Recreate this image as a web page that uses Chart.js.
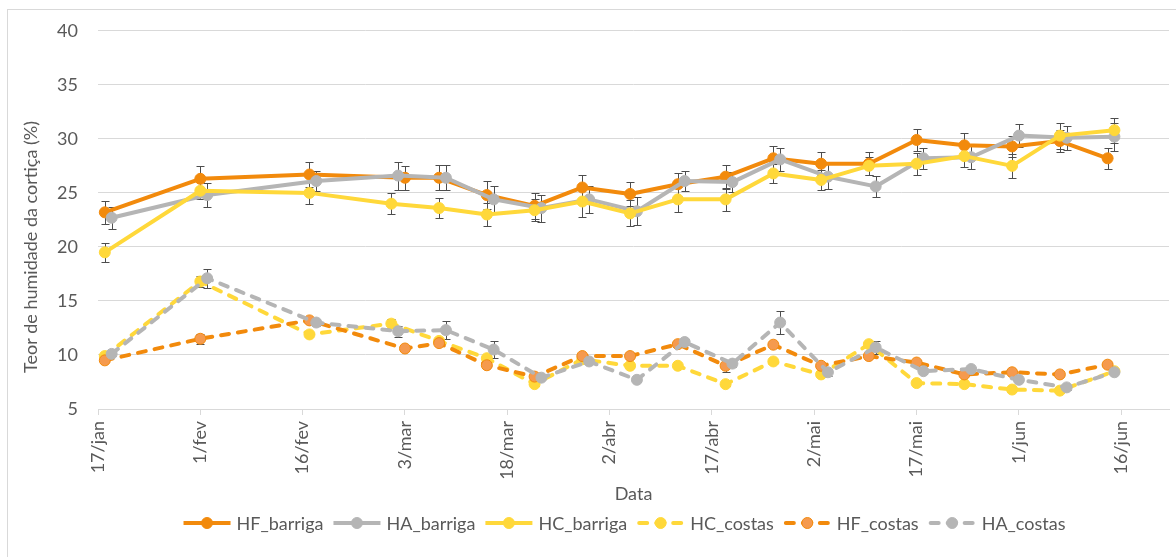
<!DOCTYPE html>
<html>
<head>
<meta charset="utf-8">
<script src="https://cdn.jsdelivr.net/npm/chart.js@4.4.1/dist/chart.umd.min.js"></script>
<style>
  html, body { margin: 0; padding: 0; background: #fff; }
  #wrap { position: relative; width: 1176px; height: 557px; overflow: hidden; }
  #frame { position: absolute; left: 7px; top: 9px; width: 1190px; height: 570px; border: 1px solid #D9D9D9; box-sizing: border-box; }
  canvas { position: absolute; left: 0; top: 0; }
</style>
</head>
<body>
<div id="wrap">
  <div id="frame"></div>
  <canvas id="c" width="1176" height="557"></canvas>
</div>
<script>
// Sampling dates (dd/mm, 2021) for each group of measurements
const datesHF = ['18/01','01/02','17/02','03/03','08/03','15/03','22/03','29/03','05/04','12/04','19/04','26/04','03/05','10/05','17/05','24/05','31/05','07/06','14/06'];
const datesHA = ['19/01','02/02','18/02','02/03','09/03','16/03','23/03','30/03','06/04','13/04','20/04','27/04','04/05','11/05','18/05','25/05','01/06','08/06','15/06'];
const datesHC = ['18/01','01/02','17/02','01/03','08/03','15/03','22/03','29/03','05/04','12/04','19/04','26/04','03/05','10/05','17/05','24/05','31/05','07/06','15/06'];

// Cork moisture content (%) — means
const hfBarriga = [23.2, 26.3, 26.7, 26.4, 26.4, 24.8, 23.8, 25.5, 24.9, 25.8, 26.5, 28.2, 27.7, 27.7, 29.9, 29.4, 29.3, 29.8, 28.2];
const haBarriga = [22.7, 24.8, 26.1, 26.6, 26.4, 24.4, 23.6, 24.4, 23.3, 26.1, 26.0, 28.1, 26.5, 25.6, 28.2, 28.3, 30.3, 30.1, 30.2];
const hcBarriga = [19.5, 25.2, 25.0, 24.0, 23.6, 23.0, 23.4, 24.2, 23.1, 24.4, 24.4, 26.8, 26.2, 27.5, 27.7, 28.4, 27.5, 30.3, 30.8];
const hcCostas  = [9.9, 16.8, 11.9, 12.9, 11.3, 9.7, 7.3, 9.6, 9.0, 9.0, 7.3, 9.4, 8.2, 11.0, 7.4, 7.3, 6.8, 6.7, 8.5];
const hfCostas  = [9.5, 11.5, 13.2, 10.6, 11.1, 9.05, 8.0, 9.9, 9.9, 11.0, 9.0, 10.95, 9.0, 9.9, 9.3, 8.2, 8.4, 8.2, 9.1];
const haCostas  = [10.1, 17.1, 13.0, 12.2, 12.3, 10.5, 7.9, 9.4, 7.7, 11.2, 9.2, 13.0, 8.4, 10.7, 8.5, 8.7, 7.7, 7.0, 8.4];

// Standard deviations (error bars)
const hfBarrigaSD = [1.05, 1.2, 1.15, 1.1, 1.15, 1.3, 1.2, 1.15, 1.15, 1.05, 1.1, 1.1, 1.05, 1.05, 1.05, 1.15, 1.0, 1.0, 0.95];
const haBarrigaSD = [1.0, 1.1, 0.95, 1.3, 1.15, 1.2, 1.25, 1.25, 1.3, 0.95, 0.95, 1.05, 1.15, 1.0, 0.95, 1.05, 1.05, 1.1, 1.3];
const hcBarrigaSD = [0.9, 0.8, 1.0, 0.95, 0.9, 1.05, 1.0, 1.45, 1.2, 1.15, 1.05, 0.9, 0.9, 0.85, 1.0, 1.0, 1.1, 1.2, 1.15];
const hcCostasSD  = [0.2, 0.5, 0.25, 0.45, 0.2, 0.2, 0.2, 0.2, 0.2, 0.2, 0.2, 0.2, 0.2, 0.2, 0.2, 0.2, 0.2, 0.2, 0.2];
const hfCostasSD  = [0.15, 0.45, 0.2, 0.2, 0.2, 0.2, 0.2, 0.2, 0.15, 0.2, 0.55, 0.2, 0.15, 0.2, 0.2, 0.15, 0.15, 0.15, 0.15];
const haCostasSD  = [0.2, 0.9, 0.3, 0.5, 0.85, 0.75, 0.2, 0.2, 0.2, 0.3, 0.35, 1.05, 0.3, 0.6, 0.3, 0.2, 0.2, 0.2, 0.2];

// Axis settings
const monthNames = ['jan','fev','mar','abr','mai','jun','jul','ago','set','out','nov','dez'];
const axisStart = Date.UTC(2021, 0, 17);
const DAY = 86400000;
const xMaxDays = 157;
const xStepDays = 15;
const yMin = 5, yMax = 40, yStep = 5;

const FONT = 'Lato, "Open Sans", sans-serif';
const FS = 18;
const TEXT = '#595959';
const GRID = '#D9D9D9';
const ORANGE = '#F28A0C';
const ORANGE_LIGHT = '#F59A4E';
const GRAY = '#B5B5B5';
const YELLOW = '#FFD83A';

function dayOf(s) {
  const [d, m] = s.split('/').map(Number);
  return Math.round((Date.UTC(2021, m - 1, d) - axisStart) / DAY);
}
function dayLabel(v) {
  const dt = new Date(axisStart + v * DAY);
  return dt.getUTCDate() + '/' + monthNames[dt.getUTCMonth()];
}

const series = [
  { label: 'HF_barriga', dates: datesHF, values: hfBarriga, sd: hfBarrigaSD, color: ORANGE, fill: ORANGE, dashed: false },
  { label: 'HA_barriga', dates: datesHA, values: haBarriga, sd: haBarrigaSD, color: GRAY, fill: GRAY, dashed: false },
  { label: 'HC_barriga', dates: datesHC, values: hcBarriga, sd: hcBarrigaSD, color: YELLOW, fill: YELLOW, dashed: false },
  { label: 'HC_costas', dates: datesHC, values: hcCostas, sd: hcCostasSD, color: YELLOW, fill: YELLOW, dashed: true },
  { label: 'HF_costas', dates: datesHF, values: hfCostas, sd: hfCostasSD, color: ORANGE, fill: ORANGE_LIGHT, dashed: true },
  { label: 'HA_costas', dates: datesHA, values: haCostas, sd: haCostasSD, color: GRAY, fill: GRAY, dashed: true }
];

const DASH = [8, 9];

const datasets = series.map((s, i) => ({
  label: s.label,
  data: s.dates.map((d, j) => ({ x: dayOf(d), y: s.values[j] })),
  sd: s.sd,
  borderColor: s.color,
  backgroundColor: s.fill,
  borderWidth: 4,
  borderDash: s.dashed ? DASH : [],
  borderCapStyle: s.dashed ? 'round' : 'butt',
  borderJoinStyle: 'round',
  pointRadius: 5.5,
  pointBorderWidth: 1,
  pointBackgroundColor: s.fill,
  pointBorderColor: s.color,
  tension: 0,
  fill: false,
  order: series.length - i
}));

// Error bars drawn beneath the lines and markers
const errorBars = {
  id: 'errorBars',
  beforeDatasetsDraw(chart) {
    const { ctx, scales: { x, y } } = chart;
    ctx.save();
    ctx.strokeStyle = '#4D4D4D';
    ctx.lineWidth = 1;
    chart.data.datasets.forEach(ds => {
      ds.data.forEach((p, j) => {
        const e = ds.sd[j];
        const px = Math.round(x.getPixelForValue(p.x)) + 0.5;
        const top = Math.round(y.getPixelForValue(p.y + e)) + 0.5;
        const bot = Math.round(y.getPixelForValue(p.y - e)) + 0.5;
        ctx.beginPath();
        ctx.moveTo(px, top); ctx.lineTo(px, bot);
        ctx.moveTo(px - 4, top); ctx.lineTo(px + 4, top);
        ctx.moveTo(px - 4, bot); ctx.lineTo(px + 4, bot);
        ctx.stroke();
      });
    });
    ctx.restore();
  }
};

// Vertical axis title
const yTitle = {
  id: 'yTitle',
  afterDraw(chart) {
    const { ctx } = chart;
    ctx.save();
    ctx.translate(31, 247);
    ctx.rotate(-Math.PI / 2);
    ctx.font = FS + 'px ' + FONT;
    ctx.fillStyle = TEXT;
    ctx.textAlign = 'center';
    ctx.textBaseline = 'middle';
    ctx.fillText('Teor de humidade da cortiça (%)', 0, 0);
    ctx.restore();
  }
};

// Legend row: line with marker, then the series name
const lineLegend = {
  id: 'lineLegend',
  afterDraw(chart) {
    const { ctx } = chart;
    const lineLen = 47, gapText = 6, gapItem = 10, cy = 523;
    ctx.save();
    ctx.font = FS + 'px ' + FONT;
    const items = chart.data.datasets.map(ds => ({ ds, w: ctx.measureText(ds.label).width }));
    const total = items.reduce((a, it) => a + lineLen + gapText + it.w, 0) + gapItem * (items.length - 1);
    let x = 624.5 - total / 2;
    items.forEach(({ ds, w }) => {
      const dashed = ds.borderDash.length > 0;
      ctx.beginPath();
      ctx.strokeStyle = ds.borderColor;
      ctx.lineWidth = 4;
      ctx.lineCap = dashed ? 'round' : 'butt';
      ctx.setLineDash(dashed ? DASH : []);
      ctx.moveTo(x + (dashed ? 2 : 0), cy);
      ctx.lineTo(x + lineLen - (dashed ? 2 : 0), cy);
      ctx.stroke();
      ctx.setLineDash([]);
      ctx.beginPath();
      ctx.arc(x + lineLen / 2, cy, 5.5, 0, Math.PI * 2);
      ctx.fillStyle = ds.pointBackgroundColor;
      ctx.fill();
      ctx.lineWidth = 1;
      ctx.strokeStyle = ds.pointBorderColor;
      ctx.stroke();
      ctx.fillStyle = TEXT;
      ctx.textAlign = 'left';
      ctx.textBaseline = 'middle';
      ctx.fillText(ds.label, x + lineLen + gapText, cy + 1);
      x += lineLen + gapText + w + gapItem;
    });
    ctx.restore();
  }
};

new Chart(document.getElementById('c'), {
  type: 'line',
  data: { datasets },
  options: {
    responsive: false,
    devicePixelRatio: 1,
    animation: false,
    layout: { padding: { left: 0, top: 28, right: 7, bottom: 52 } },
    plugins: { legend: { display: false }, tooltip: { enabled: false } },
    scales: {
      x: {
        type: 'linear',
        min: 0,
        max: xMaxDays,
        afterFit(scale) { scale.height = 96; },
        grid: { drawOnChartArea: false, drawTicks: true, tickLength: 6, color: GRID },
        border: { display: true, color: GRID, width: 1 },
        ticks: {
          stepSize: xStepDays,
          includeBounds: false,
          autoSkip: false,
          minRotation: 90,
          maxRotation: 90,
          padding: 6,
          color: TEXT,
          font: { family: FONT, size: FS },
          callback: v => dayLabel(v)
        },
        title: { display: true, text: 'Data', color: TEXT, font: { family: FONT, size: FS }, padding: { top: 0, bottom: 0 } }
      },
      y: {
        min: yMin,
        max: yMax,
        afterFit(scale) { scale.width = 98; },
        grid: { color: GRID, drawTicks: false, lineWidth: 1 },
        border: { display: false },
        ticks: { stepSize: yStep, padding: 20, color: TEXT, font: { family: FONT, size: FS } }
      }
    }
  },
  plugins: [errorBars, yTitle, lineLegend]
});
</script>
</body>
</html>
